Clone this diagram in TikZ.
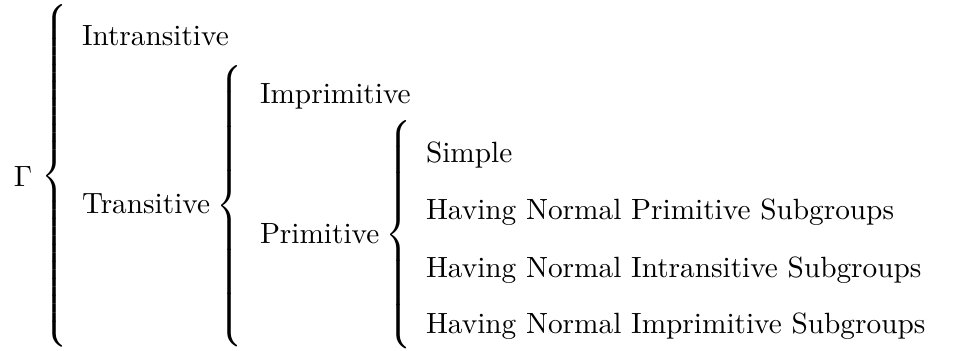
\documentclass[tikz,border=0pt]{standalone}
\newcommand{\accol}[1]{$\delimitershortfall=0pt\delimiterfactor=1000\left\{\vcenter{\hbox{\rule{0pt}{#1}}}\right.$}
\begin{document}
\begin{tikzpicture}[x={(0.3413pt,0)},y={(0,-0.3413pt)}]
\tikzset{lbl/.style = {anchor       = base west,
                       inner sep    = 0pt,
                       outer sep    = 0pt},
         accolade/.style = {anchor  = west,
                       inner sep    = 0pt,
                       outer sep    = 0pt}}
\useasboundingbox (0,0) rectangle (963,350);
% brace tips
\coordinate (T1) at (41,176);
\coordinate (T2) at (216,206);
\coordinate (T3) at (385,234.5);
% level 0
\node[lbl] (gamma) at (14,186) {$\Gamma$};
\node[accolade,yscale=0.975,transform shape] (acc1) at (T1) {\accol{115pt}};
% level 1
\node[lbl] (intr) at (82,45) {Intransitive};
\node[lbl] (tran) at (82,213) {Transitive};
\node[accolade] (acc2) at (T2) {\accol{93pt}};
% level 2
\node[lbl] (impr) at (260,103) {Imprimitive};
\node[lbl] (prim) at (260,243) {Primitive};
\node[accolade] (acc3) at (T3) {\accol{76.8pt}};
% level 3
\node[lbl] (simp) at (426,162) {Simple};
\node[lbl] (nps)  at (426,219) {Having Normal Primitive Subgroups};
\node[lbl] (nis)  at (426,277) {Having Normal Intransitive Subgroups};
\node[lbl] (nims) at (426,333) {Having Normal Imprimitive Subgroups};
\end{tikzpicture}
\end{document}
